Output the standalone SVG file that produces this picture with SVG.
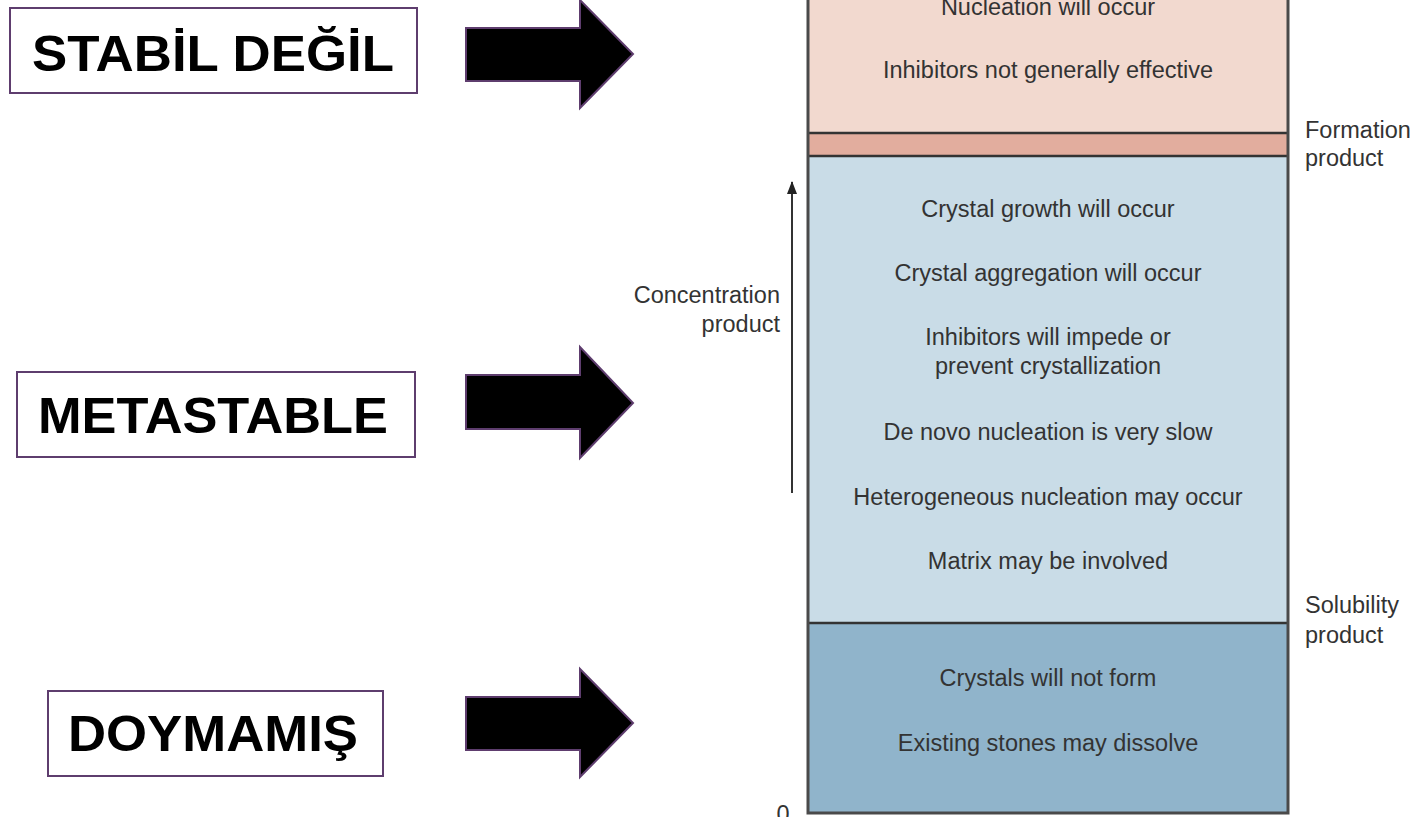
<svg xmlns="http://www.w3.org/2000/svg" width="1416" height="817" viewBox="0 0 1416 817">
<style>
.lbl{font-family:"Liberation Sans",Arial,sans-serif;font-weight:bold;font-size:50px;fill:#000;text-anchor:middle}
.box{fill:#fff;stroke:#5e3d6e;stroke-width:2}
.arr{fill:#000;stroke:#5e3d6e;stroke-width:2;stroke-linejoin:miter}
.t{font-family:"Liberation Sans",Arial,sans-serif;font-size:23.5px;fill:#333;text-anchor:middle}
.s{font-family:"Liberation Sans",Arial,sans-serif;font-size:23.5px;fill:#333}
.sep{stroke:#333;stroke-width:2.5}
</style>
<defs>
<marker id="ah" viewBox="0 0 13 10" refX="12" refY="5" markerWidth="13" markerHeight="10" markerUnits="userSpaceOnUse" orient="auto">
<path d="M0,0 L13,5 L0,10 Z" fill="#222"/>
</marker>
</defs>

<g id="chart">
<rect x="808" y="-5" width="480" height="138" fill="#f2d9cf"/>
<rect x="808" y="133" width="480" height="23" fill="#e2ad9e"/>
<rect x="808" y="156" width="480" height="467" fill="#c9dce7"/>
<rect x="808" y="623" width="480" height="190" fill="#90b4cb"/>
<line class="sep" x1="808" y1="133" x2="1288" y2="133"/>
<line class="sep" x1="808" y1="156" x2="1288" y2="156"/>
<line class="sep" x1="808" y1="623" x2="1288" y2="623"/>
<rect x="808" y="-5" width="480" height="818" fill="none" stroke="#4a4a4a" stroke-width="3"/>
</g>

<g id="unstable-zone">
<text class="t" x="1048" y="15">Nucleation will occur</text>
<text class="t" x="1048" y="78">Inhibitors not generally effective</text>
</g>
<g id="metastable-zone">
<text class="t" x="1048" y="217">Crystal growth will occur</text>
<text class="t" x="1048" y="281">Crystal aggregation will occur</text>
<text class="t" x="1048" y="345">Inhibitors will impede or</text>
<text class="t" x="1048" y="374">prevent crystallization</text>
<text class="t" x="1048" y="440">De novo nucleation is very slow</text>
<text class="t" x="1048" y="505">Heterogeneous nucleation may occur</text>
<text class="t" x="1048" y="569">Matrix may be involved</text>
</g>
<g id="undersaturated-zone">
<text class="t" x="1048" y="686">Crystals will not form</text>
<text class="t" x="1048" y="751">Existing stones may dissolve</text>
</g>

<g id="formation-label">
<text class="s" x="1305" y="138">Formation</text>
<text class="s" x="1305" y="166">product</text>
</g>
<g id="solubility-label">
<text class="s" x="1305" y="613">Solubility</text>
<text class="s" x="1305" y="643">product</text>
</g>
<g id="concentration-label">
<text class="s" x="780" y="303" text-anchor="end">Concentration</text>
<text class="s" x="780" y="332" text-anchor="end">product</text>
</g>
<g id="zero-label">
<text class="s" x="783" y="822" text-anchor="middle">0</text>
</g>

<g id="stabil-degil">
<rect class="box" x="10" y="8" width="407" height="85"/>
<text class="lbl" x="213" y="71" textLength="362" lengthAdjust="spacingAndGlyphs">STABİL DEĞİL</text>
</g>
<g id="metastable">
<rect class="box" x="17" y="372" width="398" height="85"/>
<text class="lbl" x="213" y="433" textLength="350" lengthAdjust="spacingAndGlyphs">METASTABLE</text>
</g>
<g id="doymamis">
<rect class="box" x="48" y="691" width="335" height="85"/>
<text class="lbl" x="213" y="751" textLength="290" lengthAdjust="spacingAndGlyphs">DOYMAMIŞ</text>
</g>

<g id="connectors">
<path class="arr" d="M466,28 L580,28 L580,0 L633,54 L580,108 L580,81 L466,81 Z"/>
<path class="arr" d="M466,375 L580,375 L580,347 L633,403 L580,458 L580,429 L466,429 Z"/>
<path class="arr" d="M466,697 L580,697 L580,669 L633,723 L580,777 L580,750 L466,750 Z"/>
<line x1="792" y1="493" x2="792" y2="182" stroke="#333" stroke-width="2" marker-end="url(#ah)"/>
</g>
</svg>
